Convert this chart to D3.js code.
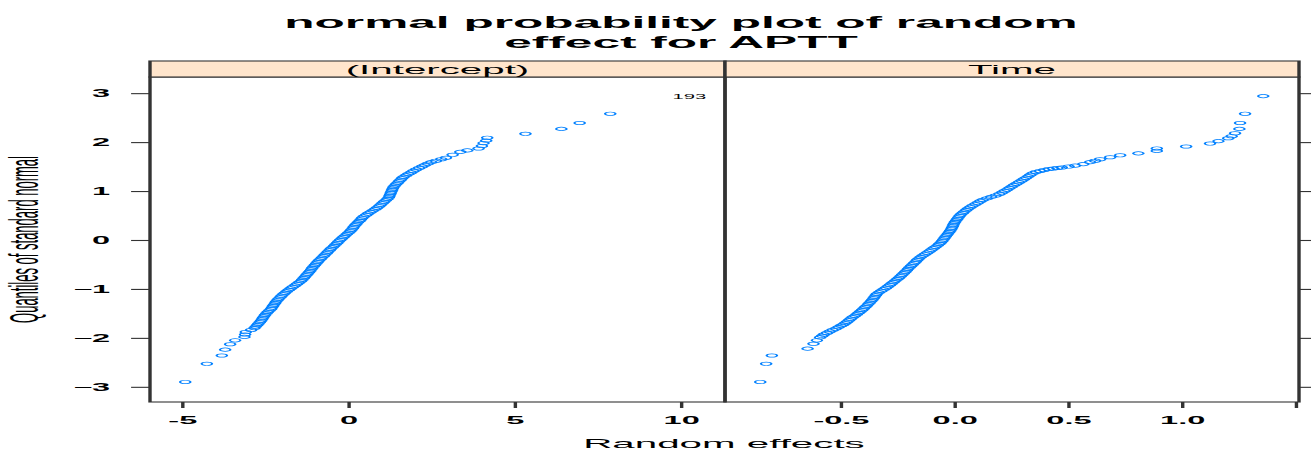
<!DOCTYPE html>
<html>
<head>
<meta charset="utf-8">
<script src="https://cdn.jsdelivr.net/npm/d3@7"></script>
<style>
  body { margin: 0; background: #fff; }
  svg { display: block; }
  text { font-family: "Liberation Sans", Arial, Helvetica, sans-serif; fill: #000; }
</style>
</head>
<body>
<svg id="chart" width="1311" height="455"></svg>
<script>
// ---- data -------------------------------------------------------------
const titleLines = ["normal probability plot of random", "effect for APTT"];
const panelNames = ["(Intercept)", "Time"];
const xAxisTitle = "Random effects";
const yAxisTitle = "Quantiles of standard normal";

const yTicks = [-3, -2, -1, 0, 1, 2, 3];
const xTicksIntercept = [-5, 0, 5, 10];
const xTickLabelsIntercept = ["-5", "0", "5", "10"];
const xTicksTime = [-0.5, 0, 0.5, 1.0, 1.5];
const xTickLabelsTime = ["-0.5", "0.0", "0.5", "1.0", ""];

// [random effect, normal quantile]
const interceptRanef = [
  [-4.88,-2.90],[-4.23,-2.53],[-3.78,-2.36],[-3.68,-2.24],[-3.53,-2.13],[-3.38,-2.05],
  [-3.10,-1.98],[-3.08,-1.93],[-3.06,-1.88],[-2.90,-1.84],
  [-2.80,-1.80],[-2.76,-1.77],[-2.72,-1.74],[-2.68,-1.71],[-2.64,-1.68],[-2.60,-1.65],
  [-2.57,-1.62],[-2.54,-1.59],[-2.51,-1.56],[-2.48,-1.53],[-2.44,-1.50],[-2.40,-1.47],
  [-2.35,-1.44],[-2.30,-1.41],[-2.27,-1.38],[-2.24,-1.35],[-2.21,-1.32],[-2.18,-1.29],
  [-2.15,-1.26],[-2.11,-1.23],[-2.07,-1.20],[-2.02,-1.17],[-1.98,-1.14],[-1.93,-1.11],
  [-1.88,-1.08],[-1.83,-1.05],[-1.77,-1.02],[-1.71,-0.99],[-1.65,-0.96],[-1.58,-0.93],
  [-1.52,-0.90],[-1.46,-0.87],[-1.40,-0.84],[-1.36,-0.81],[-1.32,-0.78],[-1.28,-0.75],
  [-1.24,-0.72],[-1.20,-0.69],[-1.16,-0.66],[-1.12,-0.63],[-1.09,-0.60],[-1.06,-0.57],
  [-1.02,-0.54],[-0.98,-0.51],[-0.94,-0.48],[-0.90,-0.45],[-0.86,-0.42],[-0.81,-0.39],
  [-0.77,-0.36],[-0.72,-0.33],[-0.68,-0.30],[-0.63,-0.27],[-0.59,-0.24],[-0.54,-0.21],
  [-0.50,-0.18],[-0.45,-0.15],[-0.40,-0.12],[-0.36,-0.09],[-0.31,-0.06],[-0.27,-0.03],
  [-0.22,0.00],[-0.17,0.03],[-0.12,0.06],[-0.07,0.09],[-0.02,0.12],[0.03,0.15],
  [0.08,0.18],[0.12,0.21],[0.16,0.24],[0.19,0.27],[0.23,0.30],[0.27,0.33],
  [0.31,0.36],[0.36,0.39],[0.40,0.42],[0.44,0.45],[0.49,0.48],[0.56,0.51],
  [0.62,0.54],[0.69,0.57],[0.76,0.60],[0.83,0.63],[0.89,0.66],[0.95,0.69],
  [1.00,0.72],[1.05,0.75],[1.10,0.78],[1.15,0.81],[1.20,0.84],[1.24,0.87],
  [1.26,0.90],[1.28,0.93],[1.30,0.96],[1.32,0.99],[1.34,1.02],[1.36,1.05],
  [1.38,1.08],[1.42,1.11],[1.46,1.14],[1.51,1.17],[1.55,1.20],[1.60,1.23],
  [1.64,1.26],[1.69,1.29],[1.76,1.32],[1.83,1.35],[1.91,1.38],[1.98,1.41],
  [2.06,1.44],[2.15,1.47],[2.24,1.50],[2.32,1.53],[2.41,1.56],[2.52,1.59],
  [2.66,1.62],[2.82,1.65],[2.96,1.68],[3.16,1.74],[3.39,1.80],
  [3.60,1.83],[3.94,1.87],[4.04,1.92],[4.09,1.98],[4.17,2.03],[4.20,2.09],
  [5.35,2.17],[6.43,2.27],[6.98,2.39],[7.90,2.58]
];
const interceptOutlier = { id: "193", effect: 10.28, quantile: 2.93 };

const timeRanef = [
  [-0.850,-2.90],[-0.824,-2.53],[-0.799,-2.36],[-0.642,-2.22],[-0.616,-2.12],[-0.601,-2.05],
  [-0.587,-1.99],[-0.578,-1.96],[-0.570,-1.93],[-0.557,-1.90],[-0.545,-1.87],[-0.532,-1.84],
  [-0.518,-1.81],[-0.506,-1.78],[-0.495,-1.75],[-0.486,-1.73],[-0.477,-1.70],[-0.468,-1.67],
  [-0.460,-1.64],[-0.452,-1.61],[-0.444,-1.58],[-0.434,-1.55],[-0.426,-1.52],[-0.418,-1.49],
  [-0.410,-1.46],[-0.402,-1.43],[-0.395,-1.40],[-0.388,-1.37],[-0.381,-1.34],[-0.375,-1.31],
  [-0.369,-1.28],[-0.363,-1.25],[-0.357,-1.22],[-0.352,-1.19],[-0.347,-1.16],[-0.342,-1.13],
  [-0.337,-1.10],[-0.328,-1.07],[-0.318,-1.04],[-0.308,-1.01],[-0.298,-0.98],[-0.289,-0.95],
  [-0.280,-0.92],[-0.272,-0.89],[-0.264,-0.86],[-0.256,-0.83],[-0.248,-0.80],[-0.240,-0.77],
  [-0.233,-0.74],[-0.226,-0.71],[-0.219,-0.68],[-0.212,-0.65],[-0.206,-0.62],[-0.200,-0.59],
  [-0.194,-0.56],[-0.187,-0.53],[-0.180,-0.50],[-0.173,-0.47],[-0.166,-0.44],[-0.160,-0.41],
  [-0.153,-0.38],[-0.145,-0.35],[-0.136,-0.32],[-0.126,-0.29],[-0.116,-0.26],[-0.106,-0.23],
  [-0.097,-0.20],[-0.088,-0.17],[-0.079,-0.14],[-0.070,-0.11],[-0.063,-0.08],[-0.056,-0.05],
  [-0.050,-0.02],[-0.045,0.01],[-0.040,0.04],[-0.035,0.07],[-0.030,0.10],[-0.025,0.13],
  [-0.020,0.16],[-0.015,0.19],[-0.011,0.22],[-0.007,0.25],[-0.004,0.28],[-0.001,0.31],
  [0.002,0.34],[0.006,0.37],[0.011,0.40],[0.016,0.43],[0.021,0.46],[0.026,0.49],
  [0.032,0.52],[0.040,0.55],[0.047,0.58],[0.055,0.61],[0.063,0.64],[0.073,0.67],
  [0.083,0.70],[0.095,0.73],[0.106,0.76],[0.117,0.79],[0.128,0.82],[0.146,0.85],
  [0.165,0.88],[0.185,0.91],[0.201,0.94],[0.213,0.97],[0.224,1.00],[0.235,1.03],
  [0.245,1.06],[0.255,1.09],[0.265,1.12],[0.276,1.15],[0.287,1.18],[0.298,1.21],
  [0.308,1.24],[0.318,1.27],[0.328,1.30],[0.337,1.33],[0.347,1.36],[0.362,1.39],
  [0.380,1.41],[0.398,1.43],[0.418,1.45],[0.438,1.46],[0.456,1.47],[0.475,1.48],
  [0.505,1.50],[0.534,1.52],[0.570,1.55],[0.600,1.59],[0.622,1.62],[0.644,1.65],
  [0.688,1.69],[0.732,1.73],[0.812,1.77],[0.893,1.82],[0.893,1.87],[1.022,1.91],
  [1.127,1.97],[1.164,2.02],[1.207,2.08],[1.222,2.12],[1.237,2.18],[1.256,2.27],
  [1.259,2.39],[1.281,2.58],[1.361,2.94]
];

// ---- layout -----------------------------------------------------------
// The whole drawing is rendered in a horizontally stretched frame.
const SX = 3.1;
const W = 1311, H = 455;
const px = v => v / SX;           // page-pixel x -> frame x

const panelTop = 77, panelBottom = 402, stripTop = 61;
const panelEdges = [150, 725, 1299];
const lineCol = "#333";
const pointCol = "#0080ff";

const svg = d3.select("#chart").attr("width", W).attr("height", H);
const root = svg.append("g").attr("transform", `scale(${SX},1)`);

const y = d3.scaleLinear().domain([-3.31, 3.33]).range([panelBottom, panelTop]);

const panels = [
  { name: panelNames[0], data: interceptRanef,
    x: d3.scaleLinear().domain([-5.94, 11.35]).range([px(panelEdges[0]), px(panelEdges[1])]),
    ticks: xTicksIntercept, labels: xTickLabelsIntercept },
  { name: panelNames[1], data: timeRanef,
    x: d3.scaleLinear().domain([-1.005, 1.518]).range([px(panelEdges[1]), px(panelEdges[2])]),
    ticks: xTicksTime, labels: xTickLabelsTime }
];

// title
root.append("g").selectAll("text").data(titleLines).join("text")
  .attr("x", px(681)).attr("y", (d, i) => 28.5 + i * 19.5)
  .attr("text-anchor", "middle").attr("font-size", 16).attr("font-weight", "bold")
  .text(d => d);

panels.forEach((p, i) => {
  const [x0, x1] = p.x.range();
  const g = root.append("g");

  // points
  g.append("g").selectAll("circle").data(p.data).join("circle")
    .attr("cx", d => p.x(d[0])).attr("cy", d => y(d[1]))
    .attr("r", 1.7).attr("fill", "none")
    .attr("stroke", pointCol).attr("stroke-width", 0.7);

  // panel box
  g.append("rect").attr("x", x0).attr("y", panelTop)
    .attr("width", x1 - x0).attr("height", panelBottom - panelTop)
    .attr("fill", "none").attr("stroke", lineCol).attr("stroke-width", 1.1);

  // strip
  g.append("rect").attr("x", x0).attr("y", stripTop)
    .attr("width", x1 - x0).attr("height", panelTop - stripTop)
    .attr("fill", "#ffe5cc").attr("stroke", lineCol).attr("stroke-width", 1.1);
  g.append("text").attr("x", (x0 + x1) / 2).attr("y", 74.5)
    .attr("text-anchor", "middle").attr("font-size", 13).text(p.name);

  // bottom axis
  const ax = d3.axisBottom(p.x).tickValues(p.ticks)
    .tickFormat((d, k) => p.labels[k]).tickSize(6).tickSizeOuter(0).tickPadding(8.5);
  const axg = g.append("g").attr("transform", `translate(0,${panelBottom})`).call(ax);
  axg.select(".domain").remove();
  axg.selectAll("line").attr("stroke", lineCol).attr("stroke-width", 1.1);
  axg.selectAll("text").attr("font-size", 10.5).attr("font-weight", "bold")
    .attr("font-family", null).attr("fill", "#111");
});

// outlier id in the (Intercept) panel
root.append("text")
  .attr("x", panels[0].x(interceptOutlier.effect)).attr("y", y(interceptOutlier.quantile))
  .attr("dy", "0.35em").attr("text-anchor", "middle")
  .attr("font-size", 6.5).attr("fill", "#333")
  .text(interceptOutlier.id);

// left y axis (labelled) and right y axis (ticks only)
const ayl = root.append("g").attr("transform", `translate(${px(panelEdges[0])},0)`)
  .call(d3.axisLeft(y).tickValues(yTicks).tickFormat(d3.format("d"))
    .tickSize(6.1).tickSizeOuter(0).tickPadding(6.8));
ayl.select(".domain").remove();
ayl.selectAll("line").attr("stroke", lineCol).attr("stroke-width", 1.1);
ayl.selectAll("text").attr("font-size", 10.5).attr("font-weight", "bold")
  .attr("font-family", null).attr("fill", "#111");

const ayr = root.append("g").attr("transform", `translate(${px(panelEdges[2])},0)`)
  .call(d3.axisRight(y).tickValues(yTicks).tickFormat("").tickSize(6.1).tickSizeOuter(0));
ayr.select(".domain").remove();
ayr.selectAll("line").attr("stroke", lineCol).attr("stroke-width", 1.1);

// axis titles
root.append("text").attr("x", px(724)).attr("y", 448)
  .attr("text-anchor", "middle").attr("font-size", 13).text(xAxisTitle);
root.append("text")
  .attr("transform", `translate(${px(38)},${(panelTop + panelBottom) / 2}) rotate(-90)`)
  .attr("text-anchor", "middle").attr("font-size", 13).text(yAxisTitle);
</script>
</body>
</html>
